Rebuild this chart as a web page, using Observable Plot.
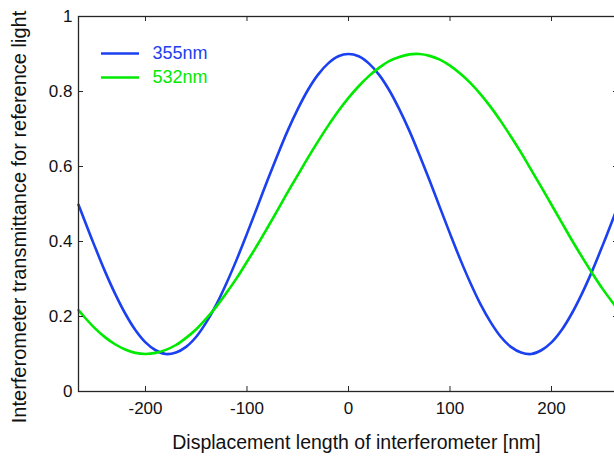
<!DOCTYPE html>
<html><head><meta charset="utf-8">
<script src="https://cdn.jsdelivr.net/npm/d3@7"></script>
<script src="https://cdn.jsdelivr.net/npm/@observablehq/plot@0.6"></script>
<style>html,body{margin:0;padding:0;overflow:hidden;background:#fff;width:614px;height:456px}</style>
</head><body><div id="chart"></div>
<script>
// Displacement [nm]
const displacement = [-266,-260,-250,-240,-230,-220,-210,-200,-190,-180,-170,-160,-150,-140,-130,-120,-110,-100,-90,-80,-70,-60,-50,-40,-30,-20,-10,0,10,20,30,40,50,60,70,80,90,100,110,120,130,140,150,160,170,180,190,200,210,220,230,240,250,260,266];
// Transmittance, 355nm
const t355 = [0.498,0.456,0.387,0.321,0.261,0.208,0.164,0.131,0.110,0.100,0.104,0.119,0.146,0.185,0.233,0.290,0.353,0.421,0.491,0.562,0.630,0.695,0.753,0.804,0.845,0.875,0.894,0.900,0.894,0.875,0.845,0.804,0.753,0.695,0.630,0.562,0.491,0.421,0.353,0.290,0.233,0.185,0.146,0.119,0.104,0.100,0.110,0.131,0.164,0.208,0.261,0.321,0.387,0.456,0.498];
// Transmittance, 532nm
const t532 = [0.217,0.198,0.169,0.145,0.126,0.112,0.103,0.100,0.103,0.111,0.124,0.143,0.166,0.195,0.227,0.264,0.303,0.346,0.390,0.436,0.483,0.531,0.577,0.623,0.667,0.709,0.748,0.783,0.814,0.841,0.863,0.881,0.892,0.899,0.900,0.895,0.885,0.869,0.848,0.823,0.793,0.759,0.721,0.680,0.637,0.591,0.545,0.498,0.451,0.404,0.359,0.316,0.275,0.238,0.217];

const seriesNames = ["355nm", "532nm"];
const seriesColors = ["#1a40f0", "#00ea00"];
const xDomain = [-266, 266];
const yDomain = [0, 1];
const xTicks = [-200, -100, 0, 100, 200];
const yTicks = [0, 0.2, 0.4, 0.6, 0.8, 1];
const xLabel = "Displacement length of interferometer [nm]";
const yLabel = "Interferometer transmittance for reference light";

const rows = [];
displacement.forEach((x, i) => {
  rows.push({x, y: t355[i], s: seriesNames[0]});
  rows.push({x, y: t532[i], s: seriesNames[1]});
});

const axisColor = "#262626";
const font = "'Liberation Sans', Arial, Helvetica, sans-serif";

const legendMarks = seriesNames.flatMap((name, i) => [
  Plot.tickY([yDomain[1]], {y: d => d, dy: 37 + i * 24, insetLeft: 23, insetRight: 479, stroke: seriesColors[i], strokeWidth: 2.6}),
  Plot.text([name], {text: d => d, frameAnchor: "top-left", dx: 74, dy: 37 + i * 24, textAnchor: "start", lineAnchor: "middle", fill: seriesColors[i], fontSize: 18})
]);

const chart = Plot.plot({
  width: 618,
  height: 456,
  marginTop: 16,
  marginBottom: 65,
  marginLeft: 78,
  marginRight: 0,
  style: {fontFamily: font, background: "#fff", maxWidth: "none", overflow: "visible"},
  x: {domain: xDomain},
  y: {domain: yDomain},
  color: {domain: seriesNames, range: seriesColors},
  marks: [
    Plot.line(rows, {x: "x", y: "y", z: "s", stroke: "s", strokeWidth: 2.6, curve: "catmull-rom"}),
    Plot.frame({stroke: axisColor, strokeWidth: 1.3}),
    Plot.ruleX(xTicks, {x: d => d, y1: yDomain[0], y2: yDomain[0], insetBottom: 5, stroke: axisColor}),
    Plot.ruleX(xTicks, {x: d => d, y1: yDomain[1], y2: yDomain[1], insetBottom: -5, stroke: axisColor}),
    Plot.ruleY(yTicks, {y: d => d, x1: xDomain[0], x2: xDomain[0], insetRight: -5, stroke: axisColor}),
    Plot.ruleY(yTicks, {y: d => d, x1: xDomain[1], x2: xDomain[1], insetLeft: -5, stroke: axisColor}),
    Plot.axisX({ticks: xTicks, tickSize: 0, tickPadding: 10, fontSize: 17, tickFormat: d => String(d), label: null, fill: "#111"}),
    Plot.axisY({ticks: yTicks, tickSize: 0, tickPadding: 6, fontSize: 17, tickFormat: d => String(d), label: null, fill: "#111"}),
    Plot.text([xLabel], {text: d => d, frameAnchor: "bottom", dx: 8, dy: 57, textAnchor: "middle", lineAnchor: "bottom", fontSize: 19.5, fill: "#111"}),
    Plot.text([yLabel], {text: d => d, frameAnchor: "left", rotate: -90, dx: -53, dy: 13, textAnchor: "middle", lineAnchor: "bottom", fontSize: 20, fill: "#111"}),
    ...legendMarks
  ]
});
document.getElementById("chart").appendChild(chart);
</script>
</body></html>
